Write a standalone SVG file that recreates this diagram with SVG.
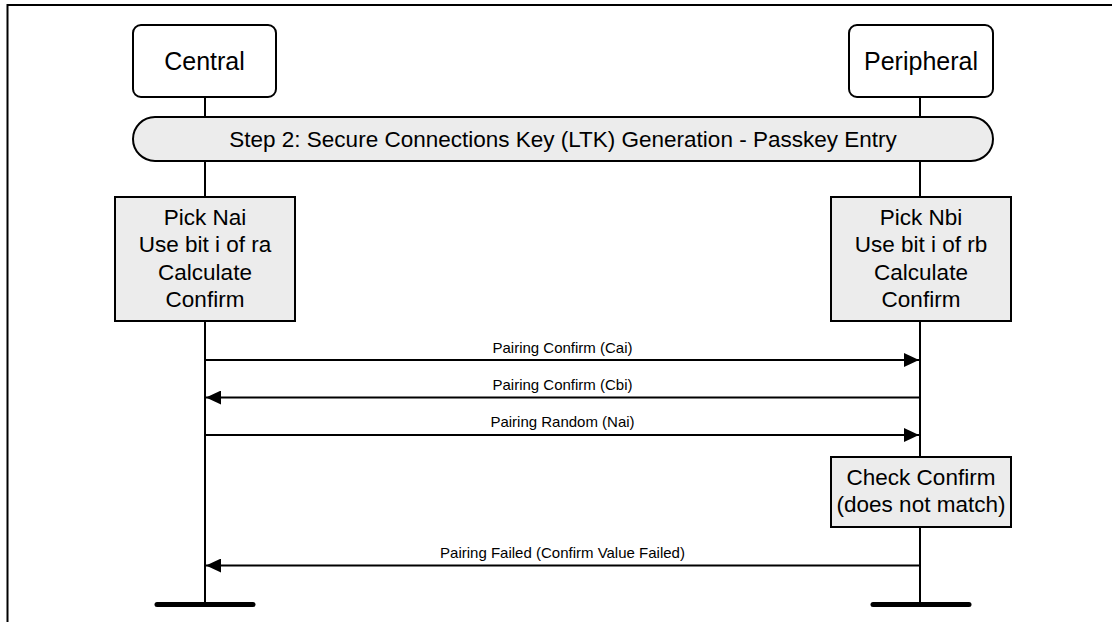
<svg xmlns="http://www.w3.org/2000/svg" width="1112" height="622" viewBox="0 0 1112 622">
<style>
.hdr{fill:#fff;stroke:#000;stroke-width:2}
.box{fill:#ececec;stroke:#000;stroke-width:2}
.life{stroke:#000;stroke-width:2;fill:none}
.bar{stroke:#000;stroke-width:5;stroke-linecap:round}
.msg{stroke:#000;stroke-width:2;fill:none}
text{font-family:"Liberation Sans",Arial,Helvetica,sans-serif;fill:#000;text-anchor:middle}
.t25{font-size:25px}
.t22{font-size:22.5px}
.t15{font-size:15px}
</style>
<defs>
<marker id="ah" viewBox="0 0 15 14" refX="15" refY="7" markerWidth="15" markerHeight="14" markerUnits="userSpaceOnUse" orient="auto">
<path d="M0,0 L15,7 L0,14 Z" fill="#000"/>
</marker>
</defs>
<rect width="1112" height="622" fill="#fff"/>
<path d="M7.5,622 V5 H1112" fill="none" stroke="#000" stroke-width="2"/>
<g id="central">
<line class="life" x1="205" y1="97" x2="205" y2="604"/>
<line class="bar" x1="157" y1="604.5" x2="253" y2="604.5"/>
<rect class="hdr" x="133" y="25" width="143" height="72" rx="8"/>
<text class="t25" x="204.5" y="70">Central</text>
</g>
<g id="peripheral">
<line class="life" x1="920" y1="97" x2="920" y2="604"/>
<line class="bar" x1="873" y1="604.5" x2="969" y2="604.5"/>
<rect class="hdr" x="849" y="25" width="144" height="72" rx="8"/>
<text class="t25" x="921" y="70">Peripheral</text>
</g>
<g id="step2">
<rect class="box" x="133" y="117" width="860" height="44" rx="22"/>
<text class="t22" x="563" y="147">Step 2: Secure Connections Key (LTK) Generation - Passkey Entry</text>
</g>
<g id="central-calc">
<rect class="box" x="115" y="197" width="180" height="124"/>
<text class="t22" x="205" y="224.5">Pick Nai</text>
<text class="t22" x="205" y="252">Use bit i of ra</text>
<text class="t22" x="205" y="279.5">Calculate</text>
<text class="t22" x="205" y="307">Confirm</text>
</g>
<g id="peripheral-calc">
<rect class="box" x="831" y="197" width="180" height="124"/>
<text class="t22" x="921" y="224.5">Pick Nbi</text>
<text class="t22" x="921" y="252">Use bit i of rb</text>
<text class="t22" x="921" y="279.5">Calculate</text>
<text class="t22" x="921" y="307">Confirm</text>
</g>
<g id="check-confirm">
<rect class="box" x="831" y="457" width="180" height="70"/>
<text class="t22" x="921" y="485">Check Confirm</text>
<text class="t22" x="921" y="512">(does not match)</text>
</g>
<g id="connectors">
<line class="msg" x1="206" y1="360" x2="919" y2="360" marker-end="url(#ah)"/>
<text class="t15" x="562.5" y="353">Pairing Confirm (Cai)</text>
<line class="msg" x1="919" y1="397.5" x2="206" y2="397.5" marker-end="url(#ah)"/>
<text class="t15" x="562.5" y="390">Pairing Confirm (Cbi)</text>
<line class="msg" x1="206" y1="435" x2="919" y2="435" marker-end="url(#ah)"/>
<text class="t15" x="562.5" y="427">Pairing Random (Nai)</text>
<line class="msg" x1="919" y1="565.5" x2="206" y2="565.5" marker-end="url(#ah)"/>
<text class="t15" x="562.5" y="558">Pairing Failed (Confirm Value Failed)</text>
</g>
</svg>
